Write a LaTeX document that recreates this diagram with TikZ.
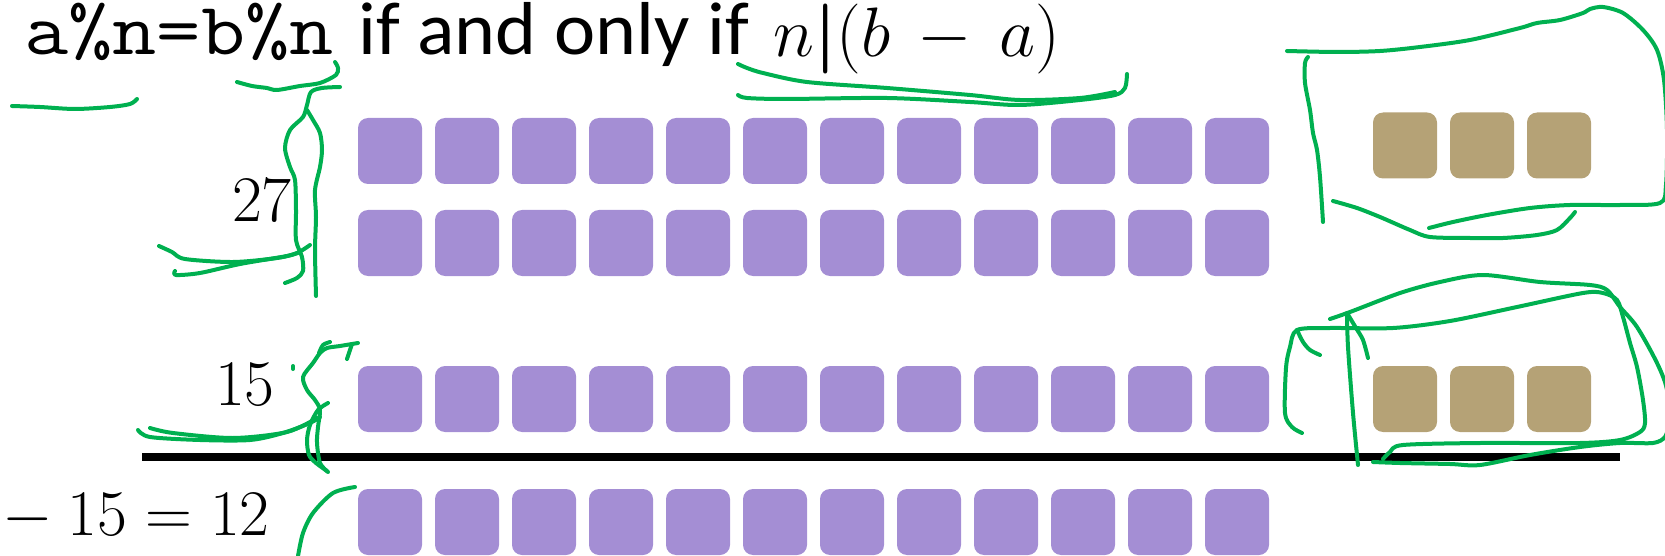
\RequirePackage{fix-cm}
\documentclass[tikz,border=0pt]{standalone}
\usepackage{fontspec}
\usepackage{bm}
\newfontfamily\calib{Carlito}
\definecolor{sqpurple}{RGB}{164,142,212}
\definecolor{sqtan}{RGB}{181,162,118}
\definecolor{pen}{RGB}{0,176,80}
\begin{document}
\begin{tikzpicture}[x=1pt,y=-1pt,
  psq/.style={fill=sqpurple, rounded corners=10pt, minimum width=64pt, minimum height=66pt, inner sep=0pt, draw=none},
  tsq/.style={psq, fill=sqtan},
  ink/.style={draw=pen, line width=4pt, line cap=round, line join=round},
  lbl/.style={inner sep=0pt, text=black}]
\useasboundingbox (0,0) rectangle (1665,556);

% squares
\foreach \i in {0,...,11} {
  \node[psq] (a\i) at (390+77*\i,151) {};
  \node[psq] (b\i) at (390+77*\i,243) {};
  \node[psq] (c\i) at (390+77*\i,399) {};
  \node[psq] (d\i) at (390+77*\i,522) {};
}
\foreach \i in {0,1,2} {
  \node[tsq] (t\i) at (1405+77*\i,145.5) {};
  \node[tsq] (u\i) at (1405+77*\i,399) {};
}

% rule
\coordinate (rl) at (142,457);
\coordinate (rr) at (1620,457);
\draw[line width=8pt] (rl) -- (rr);

% texts
\node[lbl, anchor=base west, font=\ttfamily\fontsize{74}{80}\selectfont] (mod) at (24,55) {\scalebox{1.16}[1]{a\%n=b\%n}};
\node[lbl, anchor=base west, font=\calib\fontsize{75}{80}\selectfont] (iff) at (358,55) {\scalebox{1.04}[1]{if and only if}};
\node[lbl, anchor=base west, font=\fontsize{70}{80}\selectfont] (div) at (773,57) {\medmuskip=7mu $n\bm{|}(b-a)$};
\node[lbl, anchor=base east, font=\fontsize{65}{70}\selectfont] (n27) at (292,222) {$27$};
\node[lbl, anchor=base east, font=\fontsize{65}{70}\selectfont] (n15) at (275,405) {$15$};
\node[lbl, anchor=base east, font=\fontsize{65}{70}\selectfont] (n12) at (270,535) {${}-15=12$};

% green freehand strokes
\draw[ink] plot[smooth, tension=0.5] coordinates {(12,106) (40,107) (75,109) (110,107) (130,104) (137,99)};
\draw[ink] plot[smooth, tension=0.5] coordinates {(237,82) (252,86) (267,88) (277,90) (300,86) (320,83) (336,75) (338,68) (335,62)};
\draw[ink] plot[smooth, tension=0.5] coordinates {(340,87) (322,88) (311,92) (307,105) (303,117) (290,130) (285,148) (290,167) (295,180) (296,210) (296,240) (302,257) (303,271) (297,278) (285,283)};
\draw[ink] plot[smooth, tension=0.5] coordinates {(307,110) (313,120) (320,133) (322,150) (320,167) (315,190) (316,217) (315,250) (316,296)};
\draw[ink] plot[smooth, tension=0.5] coordinates {(159,246) (172,252) (185,259) (233,262) (277,258) (297,253) (310,245)};
\draw[ink] plot[smooth, tension=0.5] coordinates {(175,271) (176,275) (200,273) (240,264) (287,256) (300,252)};

\draw[ink] (293,366) -- (293,369);
\draw[ink] plot[smooth, tension=0.5] coordinates {(358,343) (340,346) (327,348) (320,353) (313,363) (303,377) (307,390) (315,400) (320,410) (318,427) (317,443) (320,463) (328,472)};
\draw[ink] plot[smooth, tension=0.5] coordinates {(347,359) (350,350) (352,344)};
\draw[ink] plot[smooth, tension=0.5] coordinates {(319,353) (323,345) (330,342)};
\draw[ink] plot[smooth, tension=0.5] coordinates {(328,403) (318,410) (310,425) (307,440) (309,455) (316,463) (327,471)};
\draw[ink] plot[smooth, tension=0.5] coordinates {(138,430) (150,437) (200,440) (250,440) (283,433) (310,423) (320,417)};
\draw[ink] plot[smooth, tension=0.5] coordinates {(150,428) (173,433) (233,438) (287,432) (317,418)};
\draw[ink] plot[smooth, tension=0.5] coordinates {(355,487) (333,493) (313,513) (303,533) (298,556)};

\draw[ink] plot[smooth, tension=0.5] coordinates {(738,64) (747,68) (763,73) (807,82) (887,88) (970,95) (1020,100) (1080,98) (1115,92)};
\draw[ink] plot[smooth, tension=0.5] coordinates {(738,95) (747,98) (787,99) (887,98) (970,102) (1020,105) (1080,100) (1115,95) (1125,88) (1127,74)};

\draw[ink] plot[smooth, tension=0.5] coordinates {(1287,51) (1337,52) (1380,51) (1420,47) (1470,40) (1520,28) (1537,23) (1560,20) (1583,13) (1590,9) (1603,7) (1623,13) (1643,30) (1657,50) (1664,80) (1667,130) (1666,185) (1660,203) (1620,205) (1570,205) (1530,208) (1487,215) (1453,222) (1429,228)};
\draw[ink] plot[smooth, tension=0.5] coordinates {(1308,57) (1305,63) (1305,83) (1310,110) (1313,133) (1317,150) (1320,177) (1323,222)};
\draw[ink] plot[smooth, tension=0.5] coordinates {(1333,201) (1357,208) (1380,217) (1410,230) (1430,237) (1470,238) (1503,238) (1537,235) (1557,230) (1570,218) (1575,212)};

\draw[ink] plot[smooth, tension=0.5] coordinates {(1302,433) (1292,427) (1285,413) (1286,368) (1290,347) (1297,330) (1330,328) (1393,328) (1450,321) (1517,307) (1583,293) (1603,293) (1617,300) (1623,317) (1630,343) (1637,367) (1643,400) (1645,423) (1640,432) (1620,440) (1580,443) (1480,443) (1403,445) (1390,452) (1383,459)};
\draw[ink] plot[smooth, tension=0.5] coordinates {(1297,330) (1303,342) (1310,350) (1320,355)};
\draw[ink] plot[smooth, tension=0.5] coordinates {(1358,465) (1353,413) (1348,347) (1347,313)};
\draw[ink] plot[smooth, tension=0.5] coordinates {(1347,313) (1356,328) (1363,340) (1368,358)};
\draw[ink] plot[smooth, tension=0.5] coordinates {(1330,319) (1350,312) (1400,293) (1440,282) (1483,275) (1540,282) (1590,285) (1607,290) (1620,307) (1637,327) (1657,363) (1667,390) (1668,425) (1665,437) (1653,443) (1620,443) (1580,447) (1530,455) (1480,465) (1450,464) (1400,463) (1373,462)};
\end{tikzpicture}
\end{document}
